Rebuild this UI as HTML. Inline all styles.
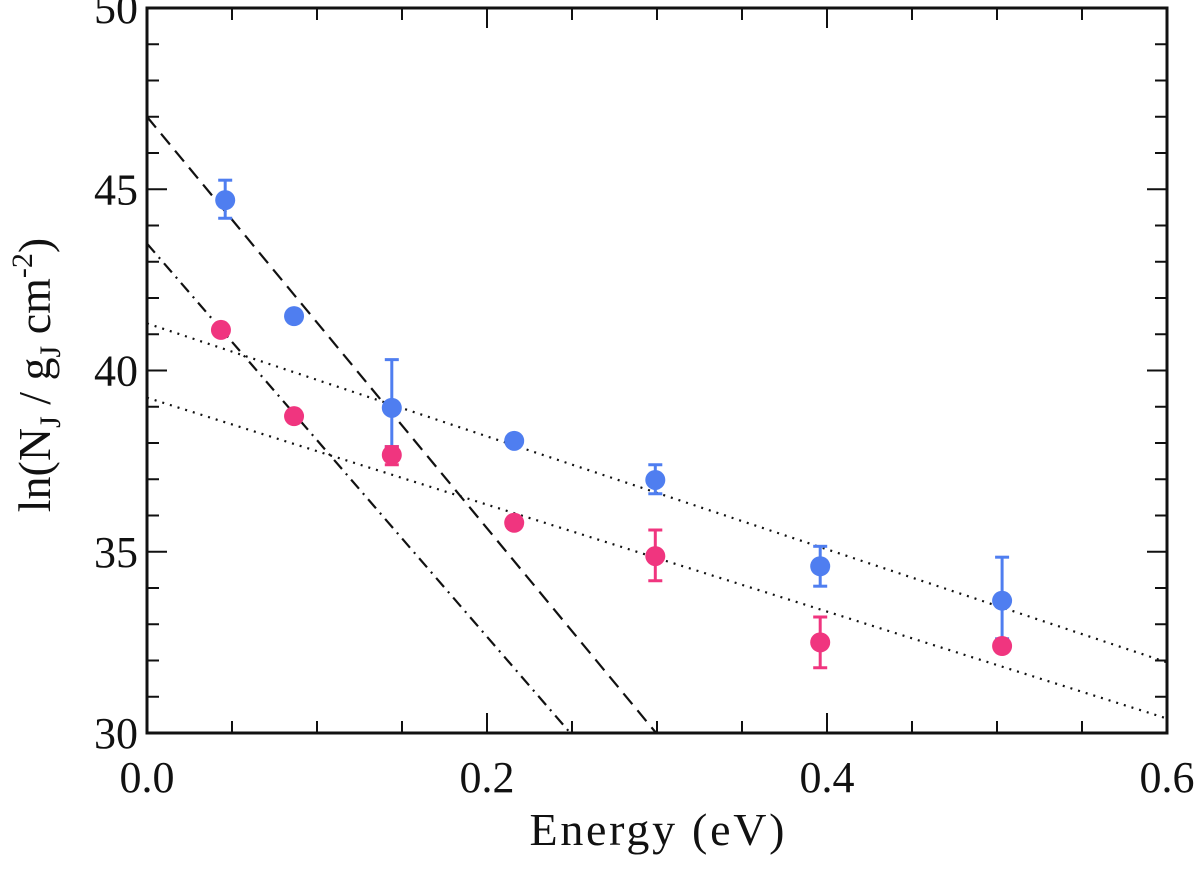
<!DOCTYPE html>
<html><head><meta charset="utf-8"><style>
body{margin:0;background:#fff}
svg text{font-family:"Liberation Serif",serif;fill:#111}
</style></head><body>
<svg id="chart" width="1200" height="865" viewBox="0 0 1200 865" xmlns="http://www.w3.org/2000/svg">
<g id="lines"></g>
<g id="pts"></g>
<g id="axes"></g>
<text x="657" y="845" font-size="46" text-anchor="middle" textLength="255">Energy (eV)</text>
<text transform="translate(50,375) rotate(-90)" font-size="46" text-anchor="middle">ln(N<tspan font-size="30" dy="10">J</tspan><tspan dy="-10"> / g</tspan><tspan font-size="30" dy="10">J</tspan><tspan dy="-10"> cm</tspan><tspan font-size="30" dy="-18">-2</tspan><tspan dy="18">)</tspan></text>
</svg>
<script>
const blueX=[0.046,0.0865,0.144,0.216,0.299,0.396,0.503];
const blueY=[44.7,41.5,38.97,38.06,36.98,34.6,33.65];
const blueErrHi=[45.25,41.5,40.3,38.06,37.4,35.15,34.85];
const blueErrLo=[44.2,41.5,37.9,38.06,36.6,34.05,32.6];
const pinkX=[0.0435,0.0865,0.144,0.216,0.299,0.396,0.503];
const pinkY=[41.12,38.74,37.67,35.8,34.88,32.5,32.4];
const pinkErrHi=[41.12,38.74,37.9,35.8,35.6,33.2,32.4];
const pinkErrLo=[41.12,38.74,37.4,35.8,34.2,31.8,32.4];
const fitLines=[[0,47.0,0.2995,30,"14,8"],[0,43.5,0.249,30,"12,6,2,6"],[0,41.3,0.6,31.95,"2,6"],[0,39.25,0.6,30.4,"2,6"]];
const xTicks=[0,0.2,0.4,0.6];
const xTickLabels=["0.0","0.2","0.4","0.6"];
const yTicks=[30,35,40,45,50];
const L=147,R=1167,T=8,B=733;
const sx=v=>L+(v-0)/0.6*(R-L);
const sy=v=>B-(v-30)/20*(B-T);
const NS="http://www.w3.org/2000/svg";
function mk(tag,attrs,parent){const e=document.createElementNS(NS,tag);for(const k in attrs)e.setAttribute(k,attrs[k]);parent.appendChild(e);return e;}
const lines=document.getElementById('lines'),pts=document.getElementById('pts'),axes=document.getElementById('axes');
fitLines.forEach((f,i)=>{const l=mk('line',{x1:sx(f[0]),y1:sy(f[1]),x2:sx(f[2]),y2:sy(f[3]),stroke:'#111','stroke-width':2.2,'stroke-dasharray':f[4]},lines);

});
function series(xs,ys,hi,lo,col,name){xs.forEach((x,i)=>{
 if(hi[i]-lo[i]>0.05){const g=mk('g',{stroke:col,'stroke-width':3},pts);
  mk('line',{x1:sx(x),x2:sx(x),y1:sy(hi[i]),y2:sy(lo[i])},g);
  mk('line',{x1:sx(x)-7,x2:sx(x)+7,y1:sy(hi[i]),y2:sy(hi[i])},g);
  mk('line',{x1:sx(x)-7,x2:sx(x)+7,y1:sy(lo[i]),y2:sy(lo[i])},g);
  
  }
 const c=mk('circle',{cx:sx(x),cy:sy(ys[i]),r:10,fill:col},pts);
 
 });}
series(blueX,blueY,blueErrHi,blueErrLo,'#4f7ef0','blue');
series(pinkX,pinkY,pinkErrHi,pinkErrLo,'#f0357f','pink');
mk('rect',{x:L,y:T,width:R-L,height:B-T,fill:'none',stroke:'#111','stroke-width':3},axes);
for(let v=0;v<=0.6001;v+=0.05){const big=Math.abs(v/0.2-Math.round(v/0.2))<1e-6;const len=big?20:12;
 mk('line',{x1:sx(v),x2:sx(v),y1:B,y2:B-len,stroke:'#111','stroke-width':2},axes);
 mk('line',{x1:sx(v),x2:sx(v),y1:T,y2:T+len,stroke:'#111','stroke-width':2},axes);}
for(let v=30;v<=50;v++){const big=v%5===0;const len=big?20:12;
 mk('line',{x1:L,x2:L+len,y1:sy(v),y2:sy(v),stroke:'#111','stroke-width':2},axes);
 mk('line',{x1:R,x2:R-len,y1:sy(v),y2:sy(v),stroke:'#111','stroke-width':2},axes);}
xTicks.forEach((v,i)=>{const t=mk('text',{x:sx(v),y:792,'font-size':44,'text-anchor':'middle'},axes);t.textContent=xTickLabels[i];
 
 });
yTicks.forEach(v=>{const t=mk('text',{x:138,y:sy(v)+15,'font-size':44,'text-anchor':'end'},axes);t.textContent=v;
 
 });
</script>
</body></html>
